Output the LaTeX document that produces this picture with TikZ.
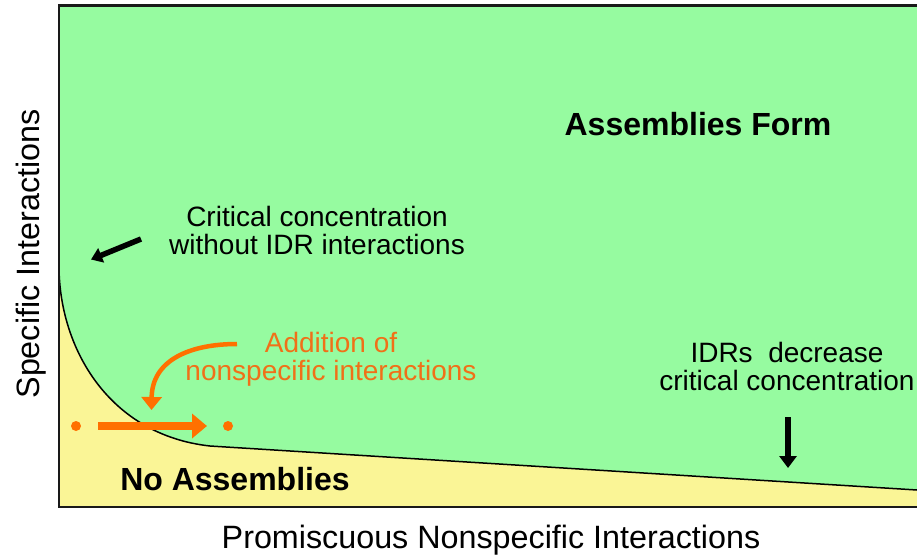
\documentclass[tikz,border=0pt]{standalone}
\usepackage{fontspec}
\setmainfont{Liberation Sans}
\usetikzlibrary{arrows.meta}
\definecolor{assemblygreen}{RGB}{150,251,160}
\definecolor{noassemblyyellow}{RGB}{250,245,150}
\definecolor{idrorange}{RGB}{255,112,0}
\definecolor{idrtext}{RGB}{240,112,24}
\begin{document}
\begin{tikzpicture}[x=1pt,y=-1pt,
  bigbold/.style={font=\fontsize{32}{36}\selectfont\bfseries, inner sep=0pt},
  axislabel/.style={font=\fontsize{32.3}{36}\selectfont, inner sep=0pt},
  note/.style={font=\fontsize{28}{28}\selectfont, align=center, inner sep=0pt},
  blackarrow/.style={line width=5.5pt, -{Triangle[width=15pt,length=11pt]}},
  orangecurve/.style={idrorange, line width=4.5pt, -{Triangle[width=20pt,length=13pt]}},
  orangestraight/.style={idrorange, line width=8pt, -{Triangle[width=24pt,length=15pt]}},
  statedot/.style={circle, fill=idrorange, inner sep=0pt, minimum size=10pt}
]
\useasboundingbox (0,0) rectangle (917,557);

% phase regions
\fill[assemblygreen] (59,5.5) rectangle (917,507);
\fill[noassemblyyellow] (59,268) .. controls (60,350) and (110,435) .. (210,446)
  -- (917,490) -- (917,507) -- (59,507) -- cycle;
% phase boundary
\draw[line width=1.5pt] (59,268) .. controls (60,350) and (110,435) .. (210,446)
  -- (917,490);
% axes frame
\draw[line width=2.6pt, black!90] (917,5.5) -- (59,5.5) -- (59,507) -- (917,507);

% region labels
\node[bigbold, anchor=base] (form) at (698,135) {Assemblies Form};
\node[bigbold, anchor=base] (none) at (235,490) {No Assemblies};

% axis labels
\node[axislabel, anchor=base] (xlab) at (491,548) {Promiscuous Nonspecific Interactions};
\node[axislabel, anchor=base, rotate=90] (ylab) at (39.5,254) {Specific Interactions};

% critical concentration annotation (anchored at the baseline of its last line)
\node[note, anchor=base] (crit) at (317,254) {Critical concentration\\without IDR interactions};
\coordinate (critTail) at (141,239);
\coordinate (critTip) at (91,259.5);
\draw[blackarrow] (critTail) -- (critTip);

% IDR effect annotation
\node[note, anchor=base] (idr) at (787,390) {IDRs~ decrease\\critical concentration};
\coordinate (idrTail) at (788,417);
\coordinate (idrTip) at (788,468);
\draw[blackarrow, line width=6pt, -{Triangle[width=17pt,length=12pt]}] (idrTail) -- (idrTip);

% nonspecific interactions annotation
\node[note, anchor=base, text=idrtext] (add) at (331,380) {Addition of\\nonspecific interactions};
\coordinate (addTail) at (237,344);
\coordinate (addTip) at (151.5,410);
\draw[orangecurve] (addTail) .. controls (190,344) and (152,360) .. (addTip);

% shift across the boundary
\node[statedot] (before) at (76,426) {};
\node[statedot] (after) at (228,426) {};
\coordinate (shiftTail) at (98,426);
\coordinate (shiftTip) at (207,426);
\draw[orangestraight] (shiftTail) -- (shiftTip);
\end{tikzpicture}
\end{document}
